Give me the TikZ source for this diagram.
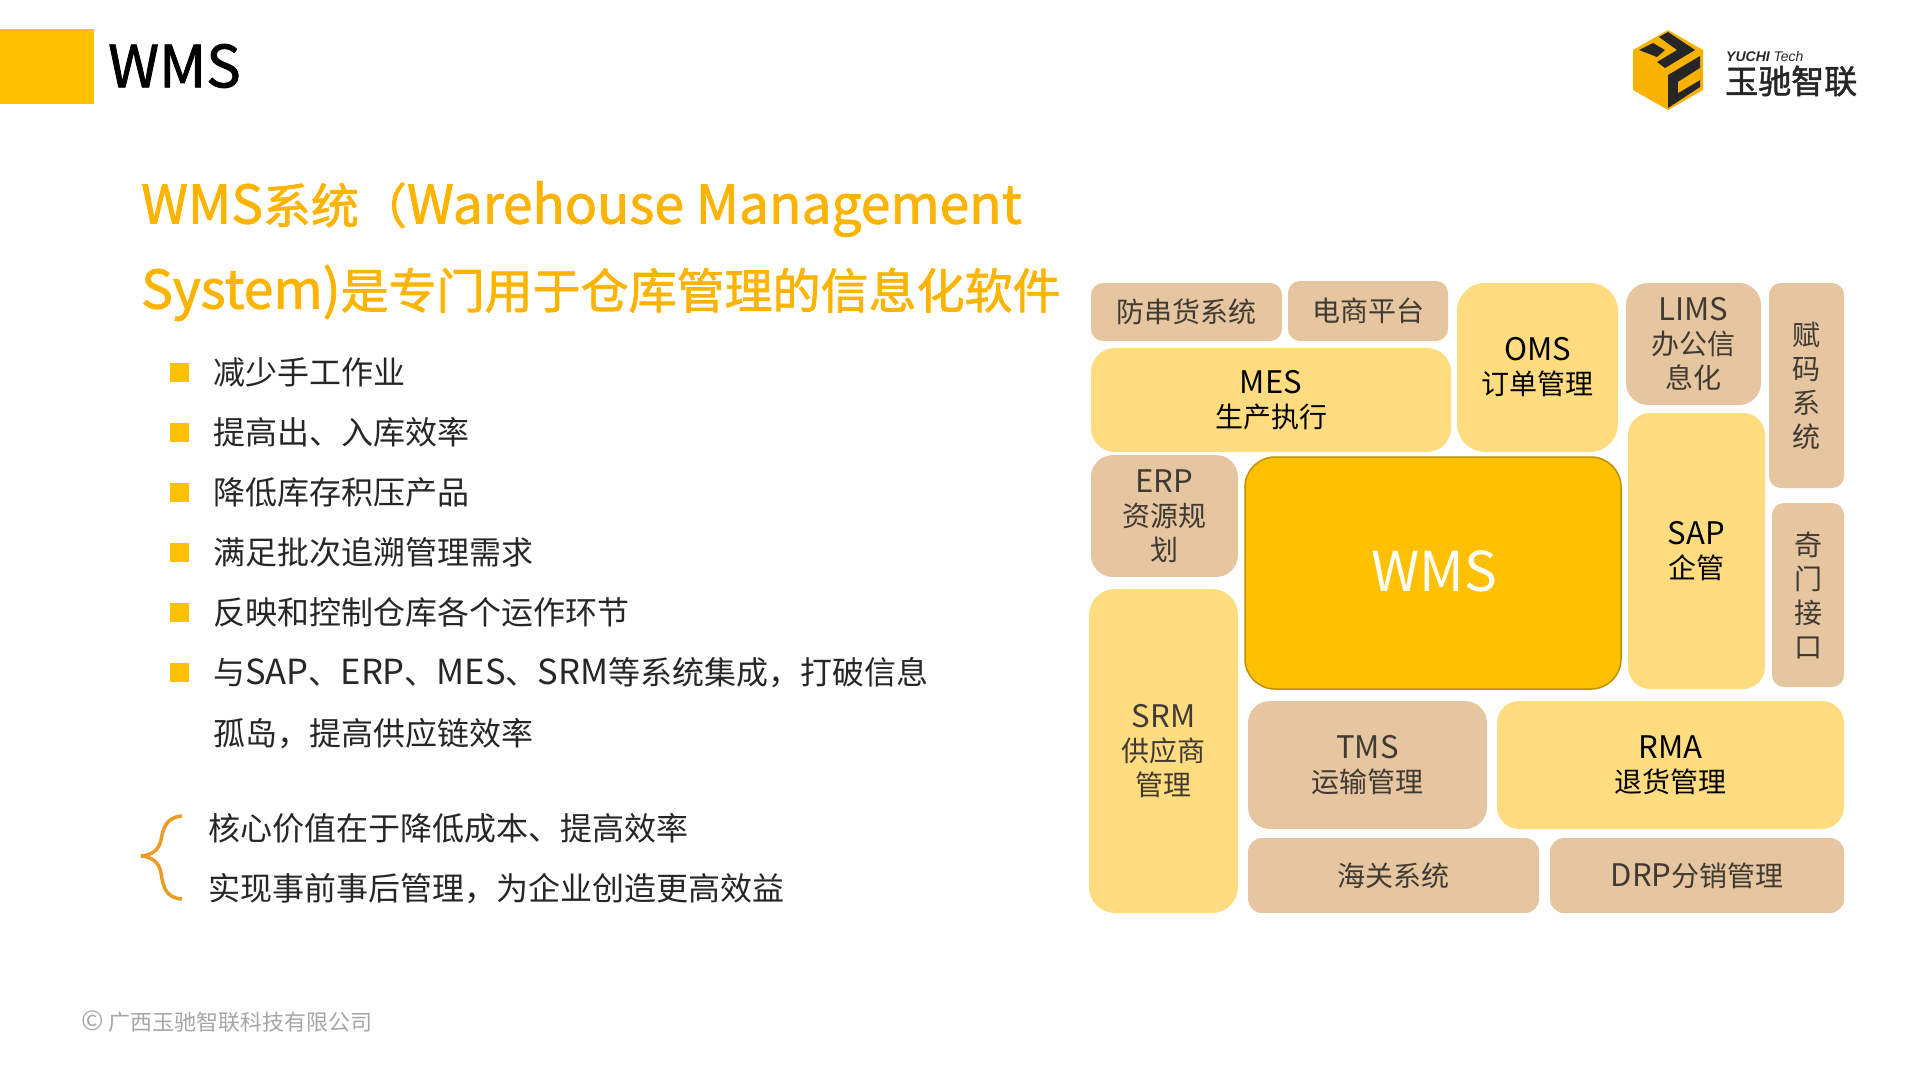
\documentclass[tikz,border=0pt]{standalone}
\usepackage{xcolor}
\usepackage{fontspec}
\setmainfont{Noto Sans CJK SC}
\newfontfamily\latfont[Scale=1.11]{Noto Sans CJK SC}
\newfontfamily\listlat[Scale=1.08]{Noto Sans CJK SC}
\newfontfamily\heavyfont[FakeBold=1.5]{Noto Sans CJK SC}
\newfontfamily\heavylat[FakeBold=1.5,Scale=1.11]{Noto Sans CJK SC}
\newfontfamily\logofont{Liberation Sans}
\newcommand{\ltn}[1]{{\latfont #1}}
\newcommand{\lsl}[1]{{\listlat #1}}
\newcommand{\hvl}[1]{{\heavylat #1}}
\definecolor{brand}{HTML}{FFC000}
\definecolor{titlecol}{HTML}{FDB400}
\definecolor{softbox}{HTML}{FFDC7F}
\definecolor{tanbox}{HTML}{E5C6A0}
\definecolor{tantext}{HTML}{403A33}
\definecolor{bracecol}{HTML}{EB9C25}
\definecolor{logodark}{HTML}{262626}
\definecolor{logoyellow}{HTML}{F9B200}
\tikzset{
  softnode/.style={rectangle,fill=softbox,text=black,align=center,font=\fontsize{28}{34}\selectfont,inner sep=0pt},
  tannode/.style={rectangle,fill=tanbox,text=tantext,align=center,font=\fontsize{28}{34}\selectfont,inner sep=0pt},
  listtext/.style={anchor=west,text=logodark,font=\fontsize{32}{36}\selectfont,inner sep=0pt,text height=28pt,text depth=4pt},
  titletext/.style={anchor=west,inner sep=0pt,text=titlecol,font=\heavyfont\fontsize{48}{60}\selectfont}
}
\newcommand{\sysbox}[8]{% name, style, left, top, right, bottom, radius, text
  \path[#2,rounded corners=#7] (#3,#4) rectangle (#5,#6);
  \node[#2,fill=none] (#1) at ({(#3+#5)/2},{(#4+#6)/2}) {#8};
}
\begin{document}
\begin{tikzpicture}[x=1pt,y=-1pt]
\useasboundingbox (0,0) rectangle (1916,1077);
% header
\fill[brand] (0,29) rectangle (94,104);
\node[anchor=west,inner sep=0pt,font=\heavyfont\fontsize{58}{60}\selectfont] (head) at (108,66) {WMS};
% logo
\fill[logoyellow] (1668,30) -- (1703,50) -- (1703,90) -- (1668,110) -- (1633,90) -- (1633,50) -- cycle;
\fill[logodark] (1639,50) -- (1653,43) -- (1665,50) -- (1657,57) -- cycle;
\fill[logodark] (1659,37) -- (1668,32) -- (1695,50) -- (1665,68) -- (1657,62) -- (1677,50) -- cycle;
\fill[logodark] (1700,56) -- (1700,87) -- (1668,108) -- (1668,75) -- cycle;
\fill[logoyellow] (1678,82) -- (1700,68) -- (1700,80) -- (1678,93) -- cycle;
\node[anchor=west,inner sep=0pt,font=\logofont\itshape\fontsize{14}{16}\selectfont,text=logodark] (brand) at (1726,56) {\textbf{YUCHI} Tech};
\node[anchor=west,inner sep=0pt,font=\heavyfont\fontsize{33}{36}\selectfont,text=logodark] (brandcn) at (1725,81) {玉驰智联};
% title
\node[titletext] (title1) at (141,209) {\hvl{WMS}系统（\hvl{Warehouse Management}};
\node[titletext] (title2) at (141,293) {\hvl{System)}是专门用于仓库管理的信息化软件};
% bullets
\foreach \y/\txt in {372/减少手工作业,432/提高出、入库效率,492/降低库存积压产品,552/满足批次追溯管理需求,612/反映和控制仓库各个运作环节,672.5/与\lsl{SAP}、\lsl{ERP}、\lsl{MES}、\lsl{SRM}等系统集成，打破信息} {
  \fill[brand] (170,\y-9.5) rectangle (189,\y+9.5);
  \node[listtext] at (213,\y) {\txt};
}
\node[listtext] (more) at (213,733) {孤岛，提高供应链效率};
% brace
\draw[bracecol,line width=3.5pt,line join=bevel] (182,816) .. controls (166,817) and (163,829) .. (161,840) .. controls (159,850) and (152,855) .. (141,856) .. controls (152,857) and (159,862) .. (161,873) .. controls (163,887) and (166,898) .. (182,899);
\node[listtext] (core1) at (208,828) {核心价值在于降低成本、提高效率};
\node[listtext] (core2) at (208,888) {实现事前事后管理，为企业创造更高效益};
% footer
\node[anchor=west,inner sep=0pt,text=black!35,font=\fontsize{22}{24}\selectfont] (copy) at (81,1022) {{\fontsize{27}{24}\selectfont ©} 广西玉驰智联科技有限公司};
% system blocks
\sysbox{anti}{tannode}{1091}{283}{1282}{341}{12pt}{防串货系统}
\sysbox{shop}{tannode}{1288}{281}{1448}{341}{12pt}{电商平台}
\sysbox{mes}{softnode}{1091}{348}{1451}{452}{24pt}{\ltn{MES}\\生产执行}
\sysbox{oms}{softnode}{1457}{283}{1618}{452}{28pt}{\ltn{OMS}\\订单管理}
\sysbox{erp}{tannode}{1091}{455}{1238}{577}{22pt}{\ltn{ERP}\\资源规\\划}
\sysbox{lims}{tannode}{1626}{283}{1761}{405}{22pt}{\ltn{LIMS}\\办公信\\息化}
\sysbox{sap}{softnode}{1628}{413}{1765}{689}{22pt}{\ltn{SAP}\\企管}
\sysbox{code}{tannode}{1769}{283}{1844}{488}{12pt}{赋\\码\\系\\统}
\sysbox{qimen}{tannode}{1772}{503}{1844}{687}{12pt}{奇\\门\\接\\口}
\sysbox{srm}{softnode,text=tantext}{1089}{589}{1238}{913}{26pt}{\ltn{SRM}\\供应商\\管理}
\sysbox{tms}{tannode}{1248}{701}{1487}{829}{22pt}{\ltn{TMS}\\运输管理}
\sysbox{rma}{softnode}{1497}{701}{1844}{829}{22pt}{\ltn{RMA}\\退货管理}
\sysbox{customs}{tannode}{1248}{838}{1539}{913}{14pt}{海关系统}
\sysbox{drp}{tannode}{1550}{838}{1844}{913}{14pt}{\ltn{DRP}分销管理}
\draw[fill=brand,draw=brand!75!black,line width=1.5pt,rounded corners=30pt] (1245,457) rectangle (1621,689);
\node[text=white,font=\fontsize{55}{62}\selectfont,inner sep=0pt] (wms) at (1434,571) {WMS};
\end{tikzpicture}
\end{document}
